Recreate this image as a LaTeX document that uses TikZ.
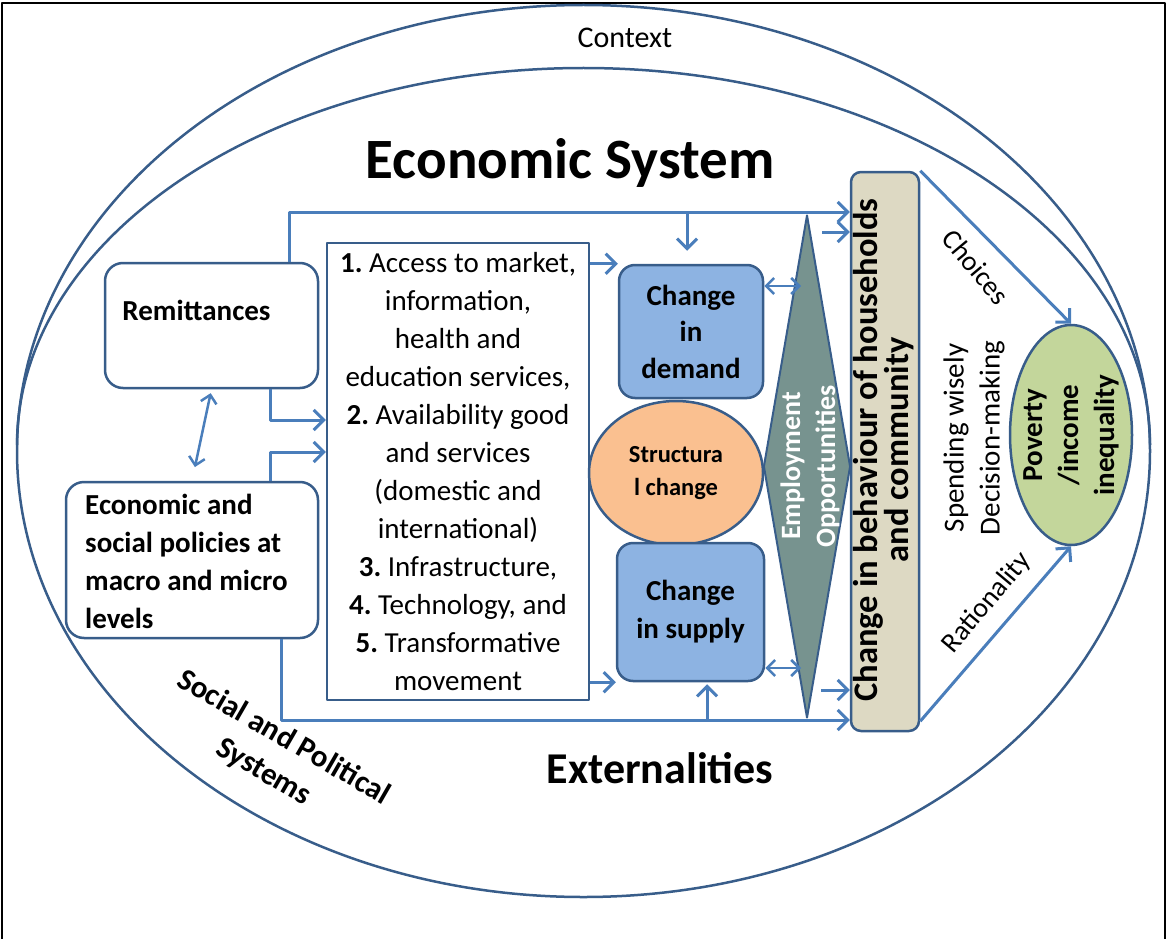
\documentclass[tikz,border=0pt]{standalone}
\usepackage{fontspec}
\setmainfont{Carlito}
\usetikzlibrary{arrows.meta,shapes.geometric}
\definecolor{dk}{HTML}{385D8A}
\definecolor{ab}{HTML}{4A7EBB}
\definecolor{fblue}{HTML}{8DB3E2}
\definecolor{forange}{HTML}{FAC090}
\definecolor{fgrey}{HTML}{77938F}
\definecolor{ftan}{HTML}{DDD9C3}
\definecolor{fgreen}{HTML}{C3D69B}
\newcommand{\fsz}[2]{\fontsize{#1}{#2}\selectfont\frenchspacing}
\begin{document}
\begin{tikzpicture}[x=1pt,y=-1pt,line join=round,
  arr/.style={draw=ab, line width=3pt, -{Straight Barb[length=10pt,width=20pt]}},
  darr/.style={draw=ab, line width=2.5pt, {Straight Barb[length=8pt,width=16pt]}-{Straight Barb[length=8pt,width=16pt]}},
  rbox/.style={draw=dk, line width=2.5pt, rounded corners=18pt, inner sep=0pt},
  ring/.style={draw=dk, line width=2.5pt}]
\useasboundingbox (0,0) rectangle (1167,939);
\draw[line width=2.5pt] (2,939) -- (2,3) -- (1165,3) -- (1165,939);
% context and economic system
\draw[ring] (583.5,451) ellipse [x radius=566.5, y radius=446];
\draw[ring] (17,445) arc[start angle=180, end angle=360, x radius=566.5, y radius=377];
% texts
\node[font=\fsz{30}{36}] (ctx) at (625,38) {Context};
\node[font=\bfseries\fsz{57}{68}] (eco) at (570,163) {Economic System};
\node[font=\bfseries\fsz{44}{52}] (ext) at (660,768) {Externalities};
\node[rotate=-30, font=\bfseries\fsz{31}{40}, align=center] (soc) at (273.5,755) {Social and Political\\Systems};
% boxes
\node[rbox, fill=white, minimum width=213pt, minimum height=125pt] (rem) at (211.5,325.5) {};
\node[font=\bfseries\fsz{29}{38}] (remt) at (196.5,310) {Remittances};
\node[rbox, fill=white, minimum width=252pt, minimum height=156pt] (pol) at (192,560) {};
\node[anchor=west, inner sep=0pt, align=left, font=\bfseries\fsz{29}{38}] (polt) at (85,561) {Economic and\\social policies at\\macro and micro\\levels};
\node[draw=dk, line width=2.5pt, fill=white, minimum width=262pt, minimum height=457pt, inner sep=0pt, align=center, font=\fsz{29}{38}] (lst) at (458,471.5) {\textbf{1.} Access to market,\\information,\\health and\\education services,\\\textbf{2.} Availability good\\and services\\(domestic and\\international)\\\textbf{3.} Infrastructure,\\\textbf{4.} Technology, and\\\textbf{5.} Transformative\\movement};
\node[rbox, fill=fblue, rounded corners=16pt, minimum width=144pt, minimum height=133pt, align=center, font=\bfseries\fsz{29}{36.5}] (dem) at (691,331.5) {Change\\in\\demand};
\node[ellipse, ring, fill=forange, minimum width=174pt, minimum height=144pt, inner sep=0pt, align=center, font=\bfseries\fsz{24.5}{33}] (str) at (676,473) {Structura\\l change};
\node[rbox, fill=fblue, rounded corners=16pt, minimum width=147pt, minimum height=138pt, align=center, font=\bfseries\fsz{29}{38}] (sup) at (690.5,612) {Change\\in supply};
\node[diamond, draw=dk, line width=2pt, fill=fgrey, minimum width=87pt, minimum height=503pt, inner sep=0pt] (emp) at (807,466.5) {};
\node[rotate=90, text=white, font=\bfseries\fsz{28}{35}, align=center] (empt) at (810,466) {Employment\\Opportunities};
\node[draw=dk, line width=2.5pt, fill=ftan, rounded corners=10pt, minimum width=68pt, minimum height=559pt, inner sep=0pt] (beh) at (885,451.5) {};
\node[rotate=90, font=\bfseries\fsz{34.5}{29}, align=center] (beht) at (884,450) {Change in behaviour of households\\and community};
\node[ellipse, ring, fill=fgreen, minimum width=122pt, minimum height=220pt, inner sep=0pt] (pov) at (1071,435) {};
\node[rotate=90, font=\bfseries\fsz{29}{36}, align=center] (povt) at (1071,435) {Poverty\\/income\\inequality};
\node[rotate=90, font=\fsz{29}{36}, align=center] (spend) at (974,438) {Spending wisely\\Decision-making};
\node[rotate=-50, font=\fsz{28}{34}] (choi) at (976,267) {Choices};
\node[rotate=50, font=\fsz{28}{34}] (rat) at (987,603) {Rationality};
% bend coordinates
\coordinate (topL) at (289,212);
\coordinate (botL) at (281,720);
\coordinate (rl) at (270,420);
\coordinate (pl) at (270,452);
\coordinate (d1) at (687,212);
\coordinate (u1) at (707,720);
\coordinate (e1) at (822,232);
\coordinate (e2) at (821,690);
\coordinate (da) at (801,286);
\coordinate (db) at (801,668);
% connectors
\draw[arr] (rem.north -| topL) |- (beh.west |- topL);
\draw[arr] (d1) -- ([yshift=13pt]d1 |- dem.north);
\draw[arr] (e1) -- (e1 -| beh.west);
\draw[arr] (pol.south -| botL) |- (beh.west |- botL);
\draw[arr] (u1) -- ([yshift=-2pt]u1 |- sup.south);
\draw[arr] (e2) -- (e2 -| beh.west);
\draw[arr] (lst.east |- dem.north) -- (dem.north west);
\draw[arr] (lst.east |- sup.south) -- (sup.south west);
\draw[darr] (da -| dem.east) -- (da);
\draw[darr] (db -| sup.east) -- (db);
\draw[arr] (rem.south -| rl) |- (lst.west |- rl);
\draw[arr] (pol.north -| pl) |- (lst.west |- pl);
\draw[darr, shorten <=4pt, shorten >=14pt] (rem.south) -- (pol.north);
\draw[arr] (beh.north east) -- (pov.north);
\draw[arr] ([yshift=11pt]beh.south east) -- (pov.south);
\end{tikzpicture}
\end{document}
